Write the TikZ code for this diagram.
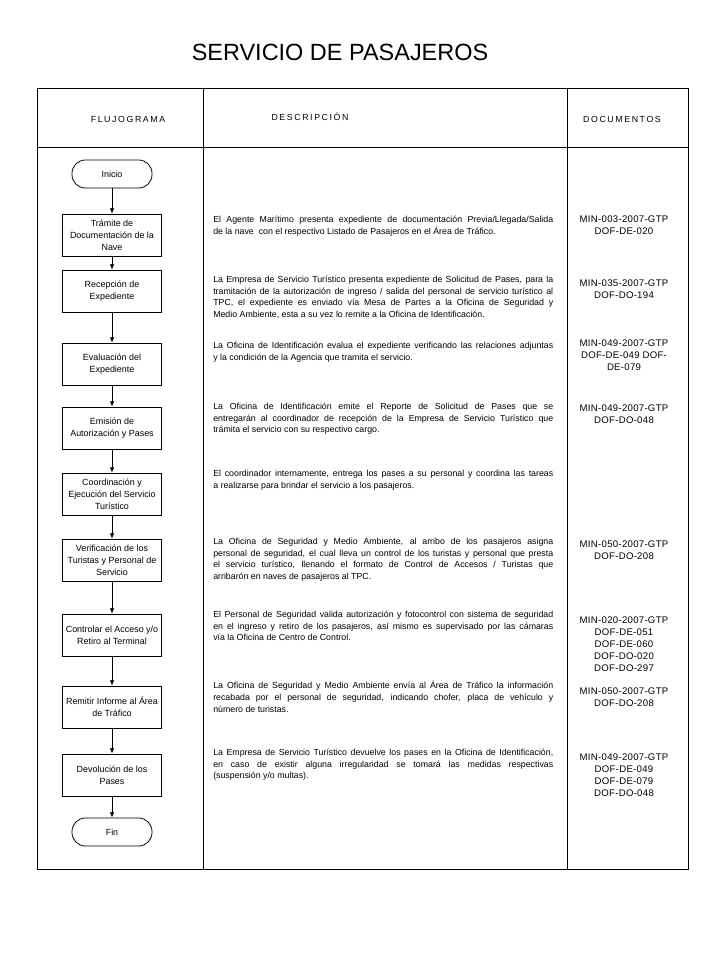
\documentclass[tikz,border=0pt]{standalone}
\usepackage{fontspec}
\setmainfont{Liberation Sans}
\usetikzlibrary{arrows.meta}

\begin{document}
\begin{tikzpicture}[
    x=0.75pt, y=-0.75pt,
    font=\fontsize{6.6}{8.7}\selectfont,
    % Style for the process boxes of the flowchart
    proc/.style={
        draw, line width=0.6pt, align=center, font=\fontsize{6.7}{9}\selectfont,
        minimum width=74.25pt, minimum height=31.5pt, inner sep=1pt
    },
    % Style for the start and end terminals
    term/.style={
        draw, line width=0.6pt, rounded corners=10pt, font=\fontsize{6.7}{9}\selectfont,
        minimum width=60pt, minimum height=21pt
    },
    % Style for the description texts
    desc/.style={
        anchor=north west, text width=255pt, align=justify, inner sep=0pt
    },
    % Style for the document codes
    docs/.style={
        align=center, inner sep=0pt,
        font=\fontsize{7.2}{9}\selectfont\addfontfeature{LetterSpace=3}
    },
    % Style for the column headers
    head/.style={
        font=\fontsize{6.6}{8}\selectfont\addfontfeature{LetterSpace=18}
    },
    % Style for the connectors
    flow/.style={
        line width=0.6pt,
        -{Latex[length=4pt, width=3.5pt]}
    }
]
\useasboundingbox (0,0) rectangle (720,960);

% --- Title ---
\node[font=\fontsize{17.6}{20}\selectfont] (title) at (340,52) {SERVICIO DE PASAJEROS};

% --- Table frame ---
\draw[line width=0.6pt] (37,88) rectangle (688,869);
\draw[line width=0.6pt] (37,147) -- (688,147);
\draw[line width=0.6pt] (203,88) -- (203,869);
\draw[line width=0.6pt] (567,88) -- (567,869);

% --- Headers ---
\node[head] (hflujo) at (128,119) {FLUJOGRAMA};
\node[head] (hdesc) at (310,117) {DESCRIPCIÓN};
\node[head] (hdocs) at (622,119) {DOCUMENTOS};

% --- Flowchart ---
\node[term] (inicio) at (112,174) {Inicio};
\node[proc] (tramite) at (112,235) {Trámite de\\Documentación de la\\Nave};
\node[proc] (recepcion) at (112,291) {Recepción de\\Expediente};
\node[proc] (evaluacion) at (112,364) {Evaluación del\\Expediente};
\node[proc] (emision) at (112,428) {Emisión de\\Autorización y Pases};
\node[proc] (coordinacion) at (112,494) {Coordinación y\\Ejecución del Servicio\\Turístico};
\node[proc] (verificacion) at (112,560) {Verificación de los\\Turistas y Personal de\\Servicio};
\node[proc] (controlar) at (112,635) {Controlar el Acceso y/o\\Retiro al Terminal};
\node[proc] (remitir) at (112,707) {Remitir Informe al Área\\de Tráfico};
\node[proc] (devolucion) at (112,775) {Devolución de los\\Pases};
\node[term] (fin) at (112,832) {Fin};

\draw[flow] (inicio) -- (tramite);
\draw[flow] (tramite) -- (recepcion);
\draw[flow] (recepcion) -- (evaluacion);
\draw[flow] (evaluacion) -- (emision);
\draw[flow] (emision) -- (coordinacion);
\draw[flow] (coordinacion) -- (verificacion);
\draw[flow] (verificacion) -- (controlar);
\draw[flow] (controlar) -- (remitir);
\draw[flow] (remitir) -- (devolucion);
\draw[flow] (devolucion) -- (fin);

% --- Descriptions ---
\node[desc] (d1) at (213,216) {El Agente Marítimo presenta expediente de documentación Previa/Llegada/Salida\linebreak de la nave\ \ con el respectivo Listado de Pasajeros en el Área de Tráfico.};
\node[desc] (d2) at (213,276) {La Empresa de Servicio Turístico presenta expediente de Solicitud de Pases, para la\linebreak tramitación de la autorización de ingreso / salida del personal de servicio turístico al\linebreak TPC, el expediente es enviado vía Mesa de Partes a la Oficina de Seguridad y\linebreak Medio Ambiente, esta a su vez lo remite a la Oficina de Identificación.};
\node[desc] (d3) at (213,342) {La Oficina de Identificación evalua el expediente verificando las relaciones adjuntas\linebreak y la condición de la Agencia que tramita el servicio.};
\node[desc] (d4) at (213,403) {La Oficina de Identificación emite el Reporte de Solicitud de Pases que se\linebreak entregarán al coordinador de recepción de la Empresa de Servicio Turístico que\linebreak trámita el servicio con su respectivo cargo.};
\node[desc] (d5) at (213,470) {El coordinador internamente, entrega los pases a su personal y coordina las tareas\linebreak a realizarse para brindar el servicio a los pasajeros.};
\node[desc] (d6) at (213,538) {La Oficina de Seguridad y Medio Ambiente, al arribo de los pasajeros asigna\linebreak personal de seguridad, el cual lleva un control de los turistas y personal que presta\linebreak el servicio turístico, llenando el formato de Control de Accesos / Turistas que\linebreak arribarón en naves de pasajeros al TPC.};
\node[desc] (d7) at (213,611) {El Personal de Seguridad valida autorización y fotocontrol con sistema de seguridad\linebreak en el ingreso y retiro de los pasajeros, así mismo es supervisado por las cámaras\linebreak vía la Oficina de Centro de Control.};
\node[desc] (d8) at (213,681) {La Oficina de Seguridad y Medio Ambiente envía al Área de Tráfico la información\linebreak recabada por el personal de seguridad, indicando chofer, placa de vehículo y\linebreak número de turistas.};
\node[desc] (d9) at (213,749) {La Empresa de Servicio Turístico devuelve los pases en la Oficina de Identificación,\linebreak en caso de existir alguna irregularidad se tomará las medidas respectivas\linebreak (suspensión y/o multas).};

% --- Documents ---
\node[docs] (doc1) at (624,225) {MIN-003-2007-GTP\\DOF-DE-020};
\node[docs] (doc2) at (624,289) {MIN-035-2007-GTP\\DOF-DO-194};
\node[docs] (doc3) at (624,355) {MIN-049-2007-GTP\\DOF-DE-049 DOF-\\DE-079};
\node[docs] (doc4) at (624,414) {MIN-049-2007-GTP\\DOF-DO-048};
\node[docs] (doc5) at (624,550) {MIN-050-2007-GTP\\DOF-DO-208};
\node[docs] (doc6) at (624,644) {MIN-020-2007-GTP\\DOF-DE-051\\DOF-DE-060\\DOF-DO-020\\DOF-DO-297};
\node[docs] (doc7) at (624,697) {MIN-050-2007-GTP\\DOF-DO-208};
\node[docs] (doc8) at (624,775) {MIN-049-2007-GTP\\DOF-DE-049\\DOF-DE-079\\DOF-DO-048};

\end{tikzpicture}
\end{document}
